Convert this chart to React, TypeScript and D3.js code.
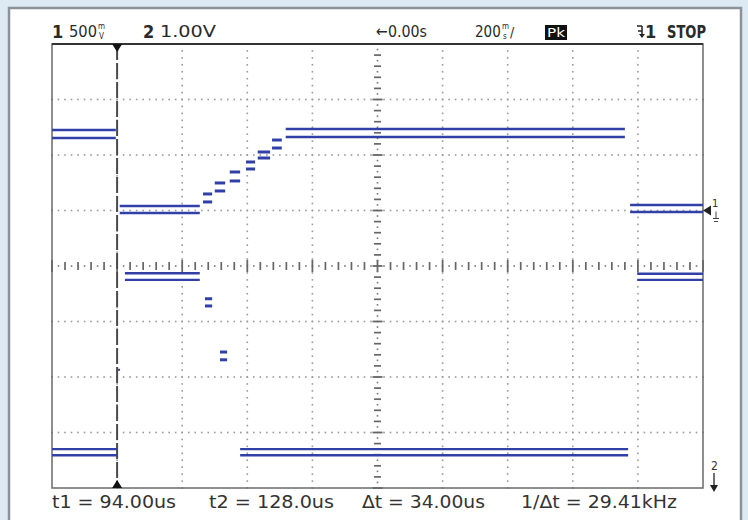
import React from 'react';
import * as d3 from 'd3';

// horizontal position in screen divisions (0..10), vertical in volts
const ch1Start = [0, 1.04, 2.32, 2.5, 2.73, 2.98, 3.16, 3.38, 3.59, 8.88];
const ch1End = [0.98, 2.27, 2.46, 2.66, 2.89, 3.12, 3.35, 3.53, 8.8, 10];
const ch1Max = [0.725, 0.041, 0.149, 0.248, 0.347, 0.437, 0.527, 0.635, 0.734, 0.05];
const ch1Min = [0.653, -0.023, 0.077, 0.176, 0.266, 0.374, 0.473, 0.563, 0.662, -0.014];

const ch2Start = [0, 1.12, 2.35, 2.58, 2.89, 8.99];
const ch2End = [1.0, 2.27, 2.46, 2.69, 8.85, 10];
const ch2Max = [0.7, 3.87, 3.41, 2.45, 0.7, 3.86];
const ch2Min = [0.59, 3.75, 3.28, 2.31, 0.59, 3.75];
const ch2DotT = [1.03];
const ch2DotV = [2.13];

const ch1VoltsPerDiv = 0.5;
const ch1Offset = 1.0;
const ch2VoltsPerDiv = 1.0;
const ch2Offset = -4.0;
const cursorT1 = 1.0;

const topLabels = ['500', '1.00V', '\u21900.00s', '200', 'Pk', 'STOP'];
const bottomLabels = ['t1 = 94.00us', 't2 = 128.0us', '\u0394t = 34.00us', '1/\u0394t = 29.41kHz'];

const W = 748;
const H = 520;
const X0 = 52, X1 = 703, Y0 = 44, Y1 = 488;
const TRACE = '#3040a6';
const FONT = '"DejaVu Sans Condensed", "DejaVu Sans", sans-serif';

export default function App() {
  const x = d3.scaleLinear().domain([0, 10]).range([X0, X1]);
  const yDiv = d3.scaleLinear().domain([-4, 4]).range([Y1, Y0]);
  const y1 = (v: number) => yDiv(v / ch1VoltsPerDiv + ch1Offset);
  const y2 = (v: number) => yDiv(v / ch2VoltsPerDiv + ch2Offset);

  const dots: JSX.Element[] = [];
  // vertical dotted grid lines
  d3.range(1, 10).filter((i) => i !== 5).forEach((i) => {
    d3.range(0, 8 * 8 + 1).forEach((k) => {
      dots.push(<rect key={`v${i}-${k}`} x={x(i) - 0.8} y={yDiv(-4 + k / 8) - 0.8} width={1.6} height={1.6} fill="#999" />);
    });
  });
  // horizontal dotted grid lines
  d3.range(-3, 4).filter((j) => j !== 0).forEach((j) => {
    d3.range(0, 10 * 10 + 1).forEach((k) => {
      dots.push(<rect key={`h${j}-${k}`} x={x(k / 10) - 0.8} y={yDiv(j) - 0.8} width={1.6} height={1.6} fill="#999" />);
    });
  });
  // center axes with minor ticks
  const axis: JSX.Element[] = [];
  d3.range(0, 10 * 10 + 1).forEach((k) => {
    const px = x(k / 10);
    const cy = yDiv(0);
    if (k % 10 === 0) axis.push(<line key={`ax${k}`} x1={px} x2={px} y1={cy - 6} y2={cy + 6} stroke="#666" strokeWidth={1.8} />);
    else if (k % 2 === 0) axis.push(<line key={`ax${k}`} x1={px} x2={px} y1={cy - 4} y2={cy + 4} stroke="#666" strokeWidth={1.7} />);
    else axis.push(<rect key={`ax${k}`} x={px - 0.8} y={cy - 0.8} width={1.6} height={1.6} fill="#777" />);
  });
  d3.range(0, 8 * 10 + 1).forEach((k) => {
    const py = yDiv(-4 + k / 10);
    const cx = x(5);
    if (k % 10 === 0) axis.push(<line key={`ay${k}`} x1={cx - 5} x2={cx + 5} y1={py} y2={py} stroke="#666" strokeWidth={1.8} />);
    else if (k % 2 === 0) axis.push(<line key={`ay${k}`} x1={cx - 3.5} x2={cx + 3.5} y1={py} y2={py} stroke="#666" strokeWidth={1.7} />);
    else axis.push(<rect key={`ay${k}`} x={cx - 0.8} y={py - 0.8} width={1.6} height={1.6} fill="#777" />);
  });

  const segs = (start: number[], end: number[], hi: number[], lo: number[], ys: (v: number) => number, name: string) =>
    start.map((s, i) => {
      const short = end[i] - s < 0.3;
      const sw = short ? 3 : 2.4;
      return (
        <g key={`${name}${i}`}>
          <line x1={x(s)} x2={x(end[i])} y1={ys(hi[i])} y2={ys(hi[i])} stroke={TRACE} strokeWidth={sw} />
          <line x1={x(s)} x2={x(end[i])} y1={ys(lo[i])} y2={ys(lo[i])} stroke={TRACE} strokeWidth={sw} />
        </g>
      );
    });

  const cx = x(cursorT1);
  const trigX = 637;

  return (
    <svg width={W} height={H} style={{ position: 'absolute', left: 0, top: 0, display: 'block' }} fontFamily={FONT}>
      <rect x={0} y={0} width={W} height={H} fill="#dde9f3" />
      <rect x={9} y={8} width={732} height={H} fill="#fff" stroke="#8b9298" strokeWidth={2.5} />

      {dots}
      {axis}

      <rect x={X0} y={Y0} width={X1 - X0} height={Y1 - Y0} fill="none" stroke="#6a6a6a" strokeWidth={1.5} />
      <line x1={X0} x2={X1} y1={Y0} y2={Y0} stroke="#333" strokeWidth={2} />

      {/* cursor t1 */}
      <line x1={cx} x2={cx} y1={Y0} y2={Y1} stroke="#4a4a4a" strokeWidth={2} strokeDasharray="16 3" />
      <path d={`M${cx - 5},${Y0} L${cx + 5},${Y0} L${cx},${Y0 + 8} Z`} fill="#111" />
      <path d={`M${cx - 5},${Y1} L${cx + 5},${Y1} L${cx},${Y1 - 8} Z`} fill="#111" />

      {segs(ch1Start, ch1End, ch1Max, ch1Min, y1, 'c1')}
      {segs(ch2Start, ch2End, ch2Max, ch2Min, y2, 'c2')}
      {ch2DotT.map((t, i) => (
        <rect key={`d${i}`} x={x(t) - 1} y={y2(ch2DotV[i]) - 1} width={2} height={2} fill={TRACE} />
      ))}

      {/* channel 1 ground marker */}
      <path d={`M${X1},${y1(0)} L${X1 + 8},${y1(0) - 5} L${X1 + 8},${y1(0) + 5} Z`} fill="#222" />
      <text x={X1 + 9} y={y1(0) - 4} fontSize={11} fill="#333">1</text>
      <line x1={X1 + 13} x2={X1 + 13} y1={y1(0) + 1} y2={y1(0) + 8} stroke="#444" strokeWidth={1} />
      <line x1={X1 + 10} x2={X1 + 16} y1={y1(0) + 8} y2={y1(0) + 8} stroke="#444" strokeWidth={1} />
      <line x1={X1 + 11} x2={X1 + 15} y1={y1(0) + 11} y2={y1(0) + 11} stroke="#444" strokeWidth={1} />

      {/* channel 2 ground marker (off screen below) */}
      <text x={X1 + 8} y={470} fontSize={12} fill="#333">2</text>
      <line x1={X1 + 11} x2={X1 + 11} y1={473} y2={488} stroke="#222" strokeWidth={1.3} />
      <path d={`M${X1 + 7},${485} L${X1 + 15},${485} L${X1 + 11},${492} Z`} fill="#222" />

      {/* top status line */}
      <g fill="#2a2a2a">
        <text x={52} y={38} fontSize={18} fontWeight="bold">1</text>
        <text x={69} y={37} fontSize={16} textLength={28} lengthAdjust="spacingAndGlyphs">{topLabels[0]}</text>
        <text x={98} y={29} fontSize={8}>m</text>
        <text x={99} y={39} fontSize={8}>V</text>
        <text x={143} y={38} fontSize={18} fontWeight="bold">2</text>
        <text x={160} y={37} fontSize={16} textLength={56} lengthAdjust="spacingAndGlyphs">{topLabels[1]}</text>
        <text x={376} y={37} fontSize={16} textLength={51} lengthAdjust="spacingAndGlyphs">{topLabels[2]}</text>
        <text x={475} y={37} fontSize={15}>{topLabels[3]}</text>
        <text x={502} y={29} fontSize={8}>m</text>
        <text x={503} y={39} fontSize={8}>s</text>
        <text x={510} y={37} fontSize={14}>/</text>
        <rect x={545} y={25} width={22} height={15} fill="#111" />
        <text x={547} y={37} fontSize={13} fill="#fff" textLength={18} lengthAdjust="spacingAndGlyphs">{topLabels[4]}</text>
        <line x1={trigX} x2={trigX + 5} y1={26} y2={26} stroke="#222" strokeWidth={1.5} />
        <line x1={trigX + 5} x2={trigX + 5} y1={26} y2={36} stroke="#222" strokeWidth={1.5} />
        <line x1={trigX + 1} x2={trigX + 5} y1={31} y2={31} stroke="#222" strokeWidth={1.5} />
        <path d={`M${trigX + 2},${34} L${trigX + 8},${34} L${trigX + 5},${38} Z`} fill="#222" />
        <text x={645} y={38} fontSize={18} fontWeight="bold">1</text>
        <text x={667} y={38} fontSize={18} fontWeight="bold" textLength={39} lengthAdjust="spacingAndGlyphs">{topLabels[5]}</text>
      </g>

      {/* cursor readout */}
      <g fill="#333" fontSize={17}>
        <text x={52} y={508} textLength={124} lengthAdjust="spacingAndGlyphs">{bottomLabels[0]}</text>
        <text x={209} y={508} textLength={125} lengthAdjust="spacingAndGlyphs">{bottomLabels[1]}</text>
        <text x={362} y={508} textLength={123} lengthAdjust="spacingAndGlyphs">{bottomLabels[2]}</text>
        <text x={521} y={508} textLength={156} lengthAdjust="spacingAndGlyphs">{bottomLabels[3]}</text>
      </g>
    </svg>
  );
}
